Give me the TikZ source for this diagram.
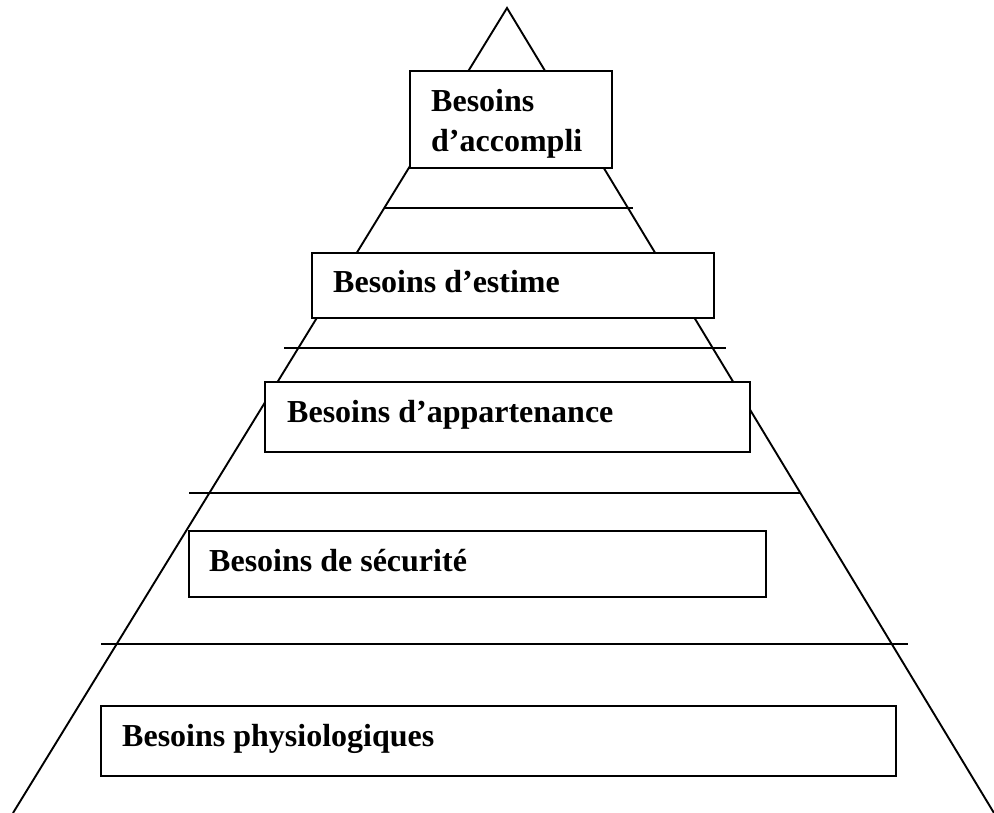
\documentclass[tikz,border=0pt]{standalone}
\usepackage{fontspec}
\setmainfont{Liberation Serif}
\begin{document}
\begin{tikzpicture}[x=1pt,y=-1pt,
  edge/.style={line width=1.9pt,line join=miter},
  level/.style={draw,line width=2.3pt,fill=white,inner sep=0pt},
  lbl/.style={anchor=base west,inner sep=0pt,font=\fontsize{32}{40}\selectfont\bfseries}]
\useasboundingbox (0,0) rectangle (994,813);
% pyramid
\coordinate (apex) at (507,8);
\coordinate (bl) at (13,813);
\coordinate (br) at (994,813);
\draw[edge] (bl) -- (apex) -- (br);
% separators
\coordinate (s1a) at (385,208); \coordinate (s1b) at (633,208);
\coordinate (s2a) at (284,348); \coordinate (s2b) at (726,348);
\coordinate (s3a) at (189,493); \coordinate (s3b) at (800,493);
\coordinate (s4a) at (101,644); \coordinate (s4b) at (908,644);
\draw[edge] (s1a) -- (s1b);
\draw[edge] (s2a) -- (s2b);
\draw[edge] (s3a) -- (s3b);
\draw[edge] (s4a) -- (s4b);
% boxes
\node[level,minimum width=202pt,minimum height=97pt] (b1) at (511,119.5) {};
\node[level,minimum width=402pt,minimum height=65pt] (b2) at (513,285.5) {};
\node[level,minimum width=485pt,minimum height=70pt] (b3) at (507.5,417) {};
\node[level,minimum width=577pt,minimum height=66pt] (b4) at (477.5,564) {};
\node[level,minimum width=795pt,minimum height=70pt] (b5) at (498.5,741) {};
% labels
\node[lbl] (t1a) at (431,112) {Besoins};
\node[lbl] (t1b) at (431,152) {d’accompli};
\node[lbl] (t2) at (333,293) {Besoins d’estime};
\node[lbl] (t3) at (287,422) {Besoins d’appartenance};
\node[lbl] (t4) at (209,571) {Besoins de sécurité};
\node[lbl] (t5) at (122,746) {Besoins physiologiques};
\end{tikzpicture}
\end{document}
